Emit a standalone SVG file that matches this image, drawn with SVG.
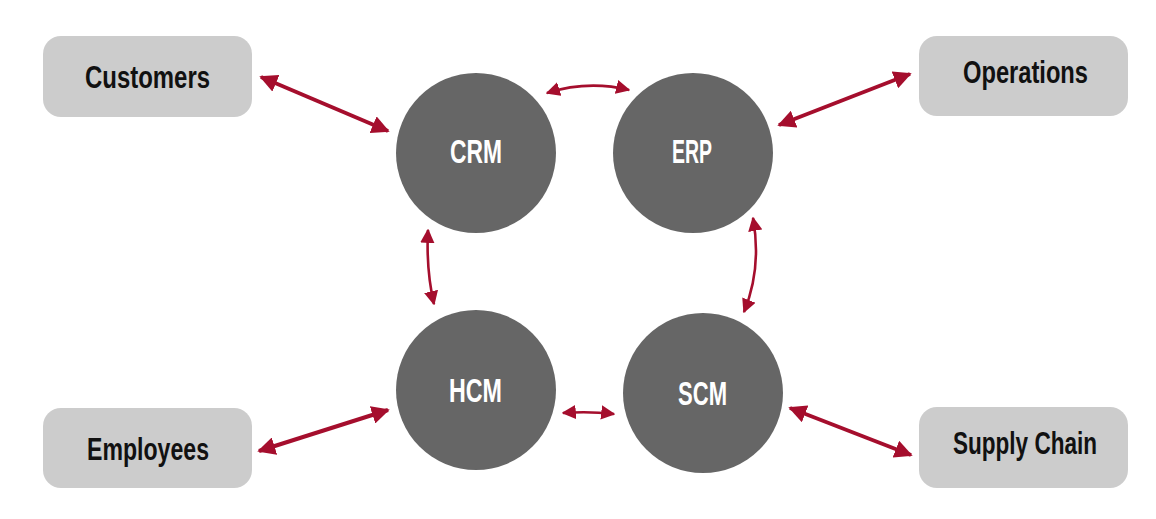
<svg xmlns="http://www.w3.org/2000/svg" width="1156" height="519" viewBox="0 0 1156 519">
<style>
.box{fill:#cccccc}
.circ{fill:#666666}
.bl{font-family:"Liberation Sans",Arial,sans-serif;font-weight:bold;font-size:32px;fill:#111;text-anchor:middle}
.cl{font-family:"Liberation Sans",Arial,sans-serif;font-weight:bold;font-size:33px;fill:#fff;text-anchor:middle}
.a{fill:none;stroke:#a50e2d;stroke-width:4;marker-start:url(#ah);marker-end:url(#ah)}
.c{fill:none;stroke:#a50e2d;stroke-width:2.6;marker-start:url(#ah2);marker-end:url(#ah2)}
</style>
<defs>
<marker id="ah" viewBox="0 0 10 10" refX="9" refY="5" markerWidth="4.5" markerHeight="4.5" orient="auto-start-reverse" markerUnits="strokeWidth"><path d="M0,0 L10,5 L0,10 z" fill="#a50e2d"/></marker>
<marker id="ah2" viewBox="0 0 10 10" refX="9" refY="5" markerWidth="5.5" markerHeight="5.5" orient="auto-start-reverse" markerUnits="strokeWidth"><path d="M0,0 L10,5 L0,10 z" fill="#a50e2d"/></marker>
</defs>
<g id="customers"><rect class="box" x="43" y="36" width="209" height="81" rx="18"/><text class="bl" x="147.5" y="88" textLength="125" lengthAdjust="spacingAndGlyphs">Customers</text></g>
<g id="operations"><rect class="box" x="919" y="36" width="209" height="80" rx="18"/><text class="bl" x="1025.5" y="83" textLength="125" lengthAdjust="spacingAndGlyphs">Operations</text></g>
<g id="employees"><rect class="box" x="43" y="408" width="209" height="80" rx="18"/><text class="bl" x="148" y="460" textLength="122" lengthAdjust="spacingAndGlyphs">Employees</text></g>
<g id="supplychain"><rect class="box" x="919" y="407" width="209" height="81" rx="18"/><text class="bl" x="1025" y="454" textLength="144" lengthAdjust="spacingAndGlyphs">Supply Chain</text></g>
<g id="crm"><circle class="circ" cx="476" cy="153" r="80"/><text class="cl" x="476" y="163" textLength="52" lengthAdjust="spacingAndGlyphs">CRM</text></g>
<g id="erp"><circle class="circ" cx="693" cy="153" r="80"/><text class="cl" x="692" y="163" textLength="40" lengthAdjust="spacingAndGlyphs">ERP</text></g>
<g id="hcm"><circle class="circ" cx="476" cy="390" r="80"/><text class="cl" x="475.5" y="402" textLength="53" lengthAdjust="spacingAndGlyphs">HCM</text></g>
<g id="scm"><circle class="circ" cx="703" cy="393" r="80"/><text class="cl" x="702.5" y="405" textLength="49" lengthAdjust="spacingAndGlyphs">SCM</text></g>
<g id="connectors">
<path class="a" d="M261,77 L388,131"/>
<path class="a" d="M910,74 L779,125"/>
<path class="a" d="M259,451 L388,410"/>
<path class="a" d="M911,455 L790,408"/>
<path class="c" d="M547,93 Q588,80 629,90"/>
<path class="c" d="M563,413 Q589,411 614,414"/>
<path class="c" d="M428,230 Q426,270 434,304"/>
<path class="c" d="M753,218 Q762,268 744,312"/>
</g>
</svg>
